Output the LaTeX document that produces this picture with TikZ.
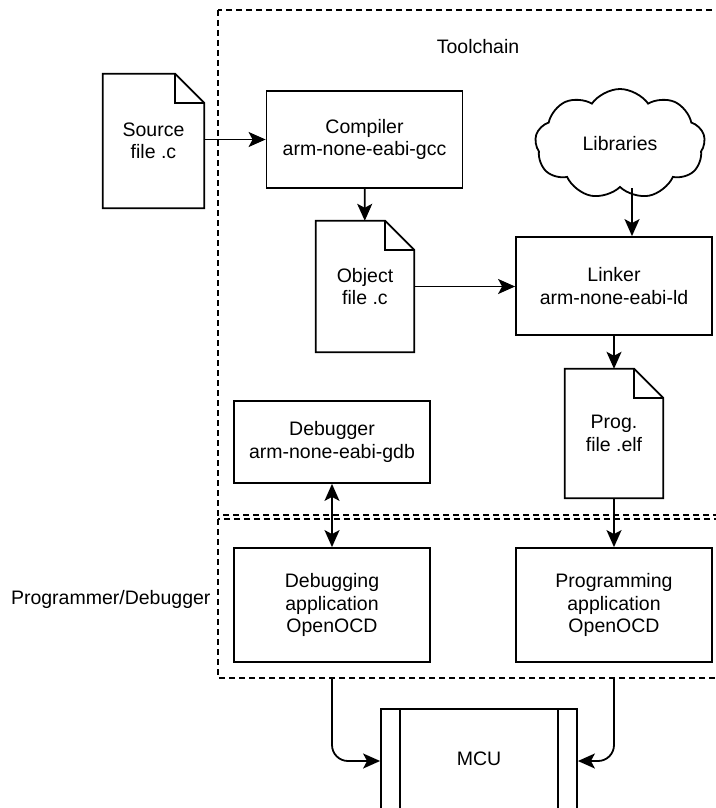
\documentclass[tikz,border=0pt]{standalone}
\usepackage{fontspec}
\setmainfont{Liberation Sans}
\usetikzlibrary{shapes.symbols,arrows.meta,positioning}

% page with folded corner drawn round a named node
\newcommand{\docfold}[1]{%
  \draw[line width=1.8pt, line join=miter] (#1.south west) -- (#1.north west) -- ([xshift=-29pt]#1.north east)
    -- ([yshift=-29pt]#1.north east) -- (#1.south east) -- cycle;
  \draw[line width=1.8pt] ([xshift=-29pt]#1.north east) |- ([yshift=-29pt]#1.north east);}

\begin{document}
\begin{tikzpicture}[x=1pt, y=-1pt,
        font=\fontsize{19.5}{22.5}\selectfont,
        block/.style={rectangle, draw, line width=1.8pt, align=center, minimum width=196pt, inner sep=0pt},
        doc/.style={rectangle, align=center, minimum width=98pt, inner sep=0pt},
        frame/.style={draw, line width=1.8pt, dash pattern=on 6pt off 4pt},
        arr/.style={-{Stealth[length=17pt,width=15pt,inset=4pt]}, line width=1.8pt},
        dblarr/.style={{Stealth[length=17pt,width=15pt,inset=4pt]}-{Stealth[length=17pt,width=15pt,inset=4pt]}, line width=1.8pt}]

        \useasboundingbox (0,0) rectangle (715,808);

        % frames
        \draw[frame] (218,10) rectangle (730,515);
        \draw[frame] (218,519) rectangle (730,678);
        \coordinate (pdbot) at (0,678);
        \node (toolchain) at (478,47) {Toolchain};
        \node[anchor=east] (progdbg) at (214,599) {Programmer/Debugger};

        % toolchain
        \node[doc, minimum width=101pt, minimum height=134pt] (source) at (153.5,141) {Source\\file .c};
        \docfold{source}
        \node[block, minimum height=97pt] (compiler) at (364.5,139.5) {Compiler\\arm-none-eabi-gcc};
        \node[cloud, draw, line width=1.8pt, cloud puffs=9, cloud puff arc=110, aspect=1.55,
              minimum width=170pt, minimum height=110pt, inner sep=0pt] (libs) at (620,144) {Libraries};
        \node[doc, minimum height=131pt] (object) at (365,286.5) {Object\\file .c};
        \docfold{object}
        \node[block, minimum height=98pt] (linker) at (614,286) {Linker\\arm-none-eabi-ld};
        \node[doc, minimum height=129pt] (progfile) at (614,433.5) {Prog.\\file .elf};
        \docfold{progfile}
        \node[block, minimum height=82pt] (debugger) at (332,442) {Debugger\\arm-none-eabi-gdb};

        % programmer / debugger
        \node[block, minimum height=114pt] (dbgapp) at (332,605) {Debugging\\application\\OpenOCD};
        \node[block, minimum height=114pt] (progapp) at (614,605) {Programming\\application\\OpenOCD};

        % target
        \node[block, minimum height=100pt] (mcu) at (479,759) {MCU};
        \draw[line width=1.8pt] ([xshift=20pt]mcu.north west) -- ([xshift=20pt]mcu.south west);
        \draw[line width=1.8pt] ([xshift=-20pt]mcu.north east) -- ([xshift=-20pt]mcu.south east);

        \draw[arr] (source.east |- compiler) -- (compiler);
        \draw[arr] (compiler) -- (object);
        \draw[arr] (libs.south -| 632,0) -- (linker.north -| 632,0);
        \draw[arr] (object) -- (object -| linker.west);
        \draw[arr] (linker) -- (progfile);
        \draw[arr] (progfile) -- (progapp);
        \draw[dblarr] (debugger) -- (dbgapp);
        \draw[arr, rounded corners=16pt] (dbgapp |- pdbot) |- ([yshift=-2pt]mcu.west);
        \draw[arr, rounded corners=16pt] (progapp |- pdbot) |- ([yshift=-2pt]mcu.east);
    \end{tikzpicture}
\end{document}
